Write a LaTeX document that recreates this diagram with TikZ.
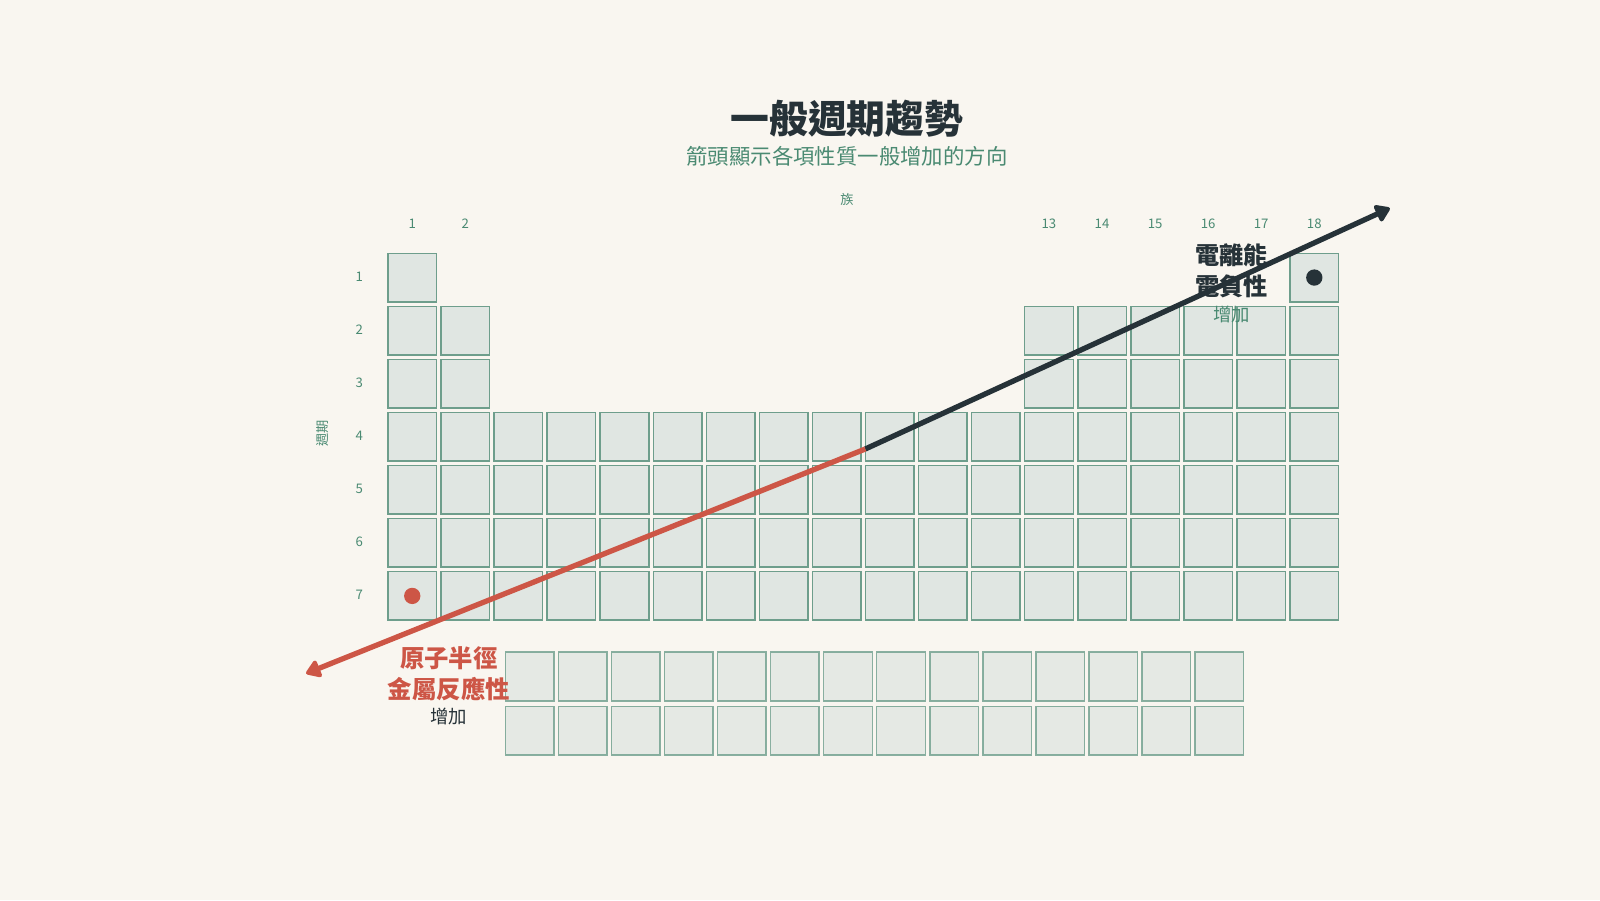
\documentclass[tikz,border=0pt]{standalone}
\usepackage{fontspec}
\setmainfont{Noto Sans CJK TC}
\usetikzlibrary{arrows.meta}
\definecolor{bgcol}{HTML}{F9F6F0}
\definecolor{darkcol}{HTML}{263238}
\definecolor{redcol}{HTML}{CD5646}
\definecolor{greencol}{HTML}{4A8A72}
\definecolor{cellfill}{HTML}{E0E6E2}
\definecolor{cellline}{HTML}{6E9E8C}
\tikzset{
  cell/.style={draw=cellline,fill=cellfill,line width=.75pt,minimum size=24.3pt,inner sep=0pt},
  fcell/.style={cell,draw opacity=.8,fill opacity=.8},
  axislbl/.style={text=greencol,font=\fontsize{6.6}{7}\selectfont},
  trend/.style={line width=2.65pt,-{Triangle[length=8pt,width=10pt,round]}}
}
\begin{document}
\begin{tikzpicture}[x=.5102pt,y=-.5102pt]
	\useasboundingbox (0,0) rectangle (1568,882);
	\fill[bgcol] (0,0) rectangle (1568,882);
	% titles
	\node[text=darkcol,font=\fontsize{19.4}{22}\bfseries] (title) at (830,116) {一般週期趨勢};
	\node[text=greencol,font=\fontsize{10.7}{12}\selectfont] (subtitle) at (830,153) {箭頭顯示各項性質一般增加的方向};
	\node[axislbl] (grouplbl) at (830,195) {族};
	\node[axislbl,rotate=90] (periodlbl) at (316,425) {週期};
	
	% group and period numbers
	\foreach \g in {1,2,13,14,15,16,17,18}
		\node[axislbl] (g\g) at ({404+52*(\g-1)},219) {\g};
	\foreach \p in {1,...,7}
		\node[axislbl] (p\p) at (352,{271+52*(\p-1)}) {\p};
	
	% main block
	\foreach \g in {1,18}
		\node[cell] (c1-\g) at ({404+52*(\g-1)},272) {};
	\foreach \p in {2,3}
		\foreach \g in {1,2,13,14,15,16,17,18}
			\node[cell] (c\p-\g) at ({404+52*(\g-1)},{272+52*(\p-1)}) {};
	\foreach \p in {4,...,7}
		\foreach \g in {1,...,18}
			\node[cell] (c\p-\g) at ({404+52*(\g-1)},{272+52*(\p-1)}) {};
	
	% f block
	\foreach \r in {1,2}
		\foreach \k in {1,...,14}
			\node[fcell] (f\r-\k) at ({519+52*(\k-1)},{663+53*(\r-1)}) {};
	
	% trend arrows
	\coordinate (mid) at (848,440);
	\coordinate (upend) at (1362,204);
	\coordinate (downend) at (300,660);
	\draw[trend,darkcol] (mid) -- (upend);
	\draw[trend,redcol] (mid) -- (downend);
	\fill[darkcol] (c1-18) circle (8);
	\fill[redcol] (c7-1) circle (8);
	
	% labels
	\node[text=darkcol,font=\fontsize{12.1}{15.5}\bfseries,align=center] (ielbl) at (1207,265) {電離能\\電負性};
	\node[text=greencol,font=\fontsize{9.2}{10}\selectfont] (ieinc) at (1207,308) {增加};
	\node[text=redcol,font=\fontsize{12.2}{15.5}\bfseries,align=center] (arlbl) at (440,660) {原子半徑\\金屬反應性};
	\node[text=darkcol,font=\fontsize{9.2}{10}\selectfont] (arinc) at (440,702) {增加};
\end{tikzpicture}
\end{document}
